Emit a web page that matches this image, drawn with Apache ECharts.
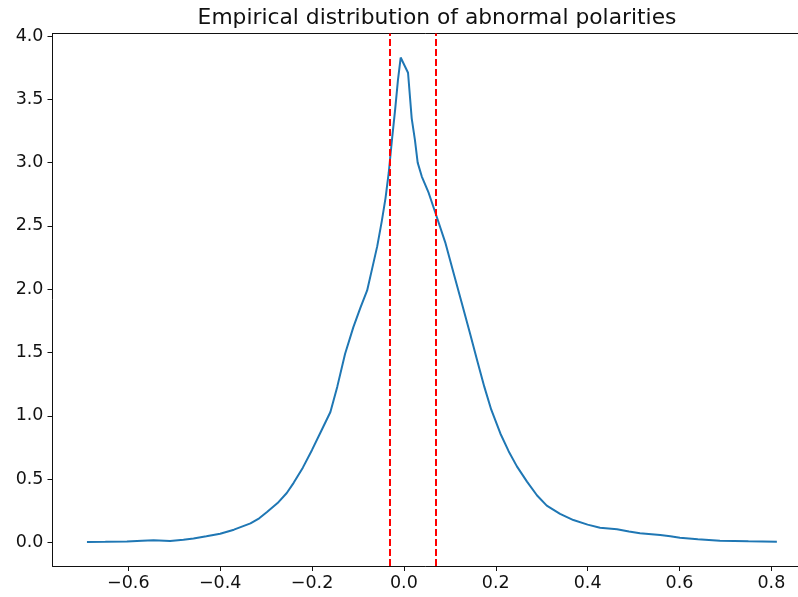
<!DOCTYPE html>
<html>
<head>
<meta charset="utf-8">
<script src="https://cdn.jsdelivr.net/npm/echarts@6/dist/echarts.min.js"></script>
<style>html,body{margin:0;padding:0;background:#fff}#c{width:798px;height:597px}</style>
</head>
<body>
<div id="c"></div>
<script>
var titleText = 'Empirical distribution of abnormal polarities';
var xValues = [-0.690,-0.650,-0.603,-0.570,-0.545,-0.509,-0.480,-0.458,-0.430,-0.400,-0.370,-0.334,-0.315,-0.298,-0.275,-0.255,-0.240,-0.220,-0.200,-0.180,-0.160,-0.145,-0.128,-0.110,-0.095,-0.080,-0.068,-0.058,-0.048,-0.040,-0.033,-0.026,-0.019,-0.013,-0.007,0.009,0.017,0.024,0.030,0.039,0.054,0.068,0.090,0.108,0.126,0.144,0.160,0.175,0.190,0.210,0.228,0.246,0.268,0.290,0.311,0.340,0.369,0.400,0.427,0.464,0.490,0.514,0.558,0.580,0.601,0.640,0.688,0.750,0.812];
var densityValues = [0.003,0.004,0.006,0.012,0.016,0.011,0.020,0.030,0.048,0.068,0.100,0.150,0.190,0.240,0.310,0.390,0.470,0.590,0.730,0.880,1.030,1.230,1.490,1.700,1.850,1.990,2.180,2.340,2.540,2.720,2.920,3.180,3.420,3.650,3.830,3.710,3.350,3.180,3.000,2.890,2.760,2.610,2.370,2.130,1.890,1.650,1.430,1.230,1.050,0.860,0.720,0.600,0.480,0.370,0.290,0.225,0.176,0.140,0.115,0.103,0.085,0.071,0.058,0.048,0.036,0.025,0.013,0.008,0.005];
var thresholdValues = [-0.032, 0.066];
var xTicks = [-0.6,-0.4,-0.2,0.0,0.2,0.4,0.6,0.8];
var yTicks = [0.0,0.5,1.0,1.5,2.0,2.5,3.0,3.5,4.0];

var points = xValues.map(function(x,i){return [x, densityValues[i]];});
function fmt(v){ return v.toFixed(1).replace('-', '\u2212'); }

var labelFont = {fontFamily:'DejaVu Sans', fontSize:17.5, color:'#111'};
var chart = echarts.init(document.getElementById('c'), null, {renderer:'canvas'});
chart.setOption({
  animation:false,
  title:{text:titleText, left:432, textAlign:'center', top:2,
    textStyle:{fontFamily:'DejaVu Sans', fontSize:21.8, fontWeight:'normal', color:'#111'}},
  grid:{left:52.5, top:33.5, bottom:31, right:0, show:false},
  xAxis:[{type:'value', min:-0.765, max:0.858, position:'bottom',
    axisLine:{show:true, onZero:false, lineStyle:{color:'#111', width:1}},
    splitLine:{show:false},
    axisTick:{show:true, customValues:xTicks, length:5, lineStyle:{color:'#111', width:1}},
    axisLabel:Object.assign({customValues:xTicks, formatter:fmt, margin:8}, labelFont)},
   {type:'value', min:-0.765, max:0.858, position:'top',
    axisLine:{show:true, onZero:false, lineStyle:{color:'#111', width:1}},
    splitLine:{show:false}, axisTick:{show:false}, axisLabel:{show:false}}],
  yAxis:{type:'value', min:-0.187, max:4.02,
    axisLine:{show:true, onZero:false, lineStyle:{color:'#111', width:1}},
    splitLine:{show:false},
    axisTick:{show:true, customValues:yTicks, length:5, lineStyle:{color:'#111', width:1}},
    axisLabel:Object.assign({customValues:yTicks, formatter:fmt, margin:9}, labelFont)},
  series:[{
    type:'line', data:points, showSymbol:false, smooth:false, xAxisIndex:0,
    lineStyle:{color:'#1f77b4', width:2},
    markLine:{silent:true, symbol:['none','none'], label:{show:false},
      lineStyle:{color:'#ff0000', width:2, type:[7,3]},
      data:thresholdValues.map(function(v){return {xAxis:v};})}
  }]
});
</script>
</body>
</html>
